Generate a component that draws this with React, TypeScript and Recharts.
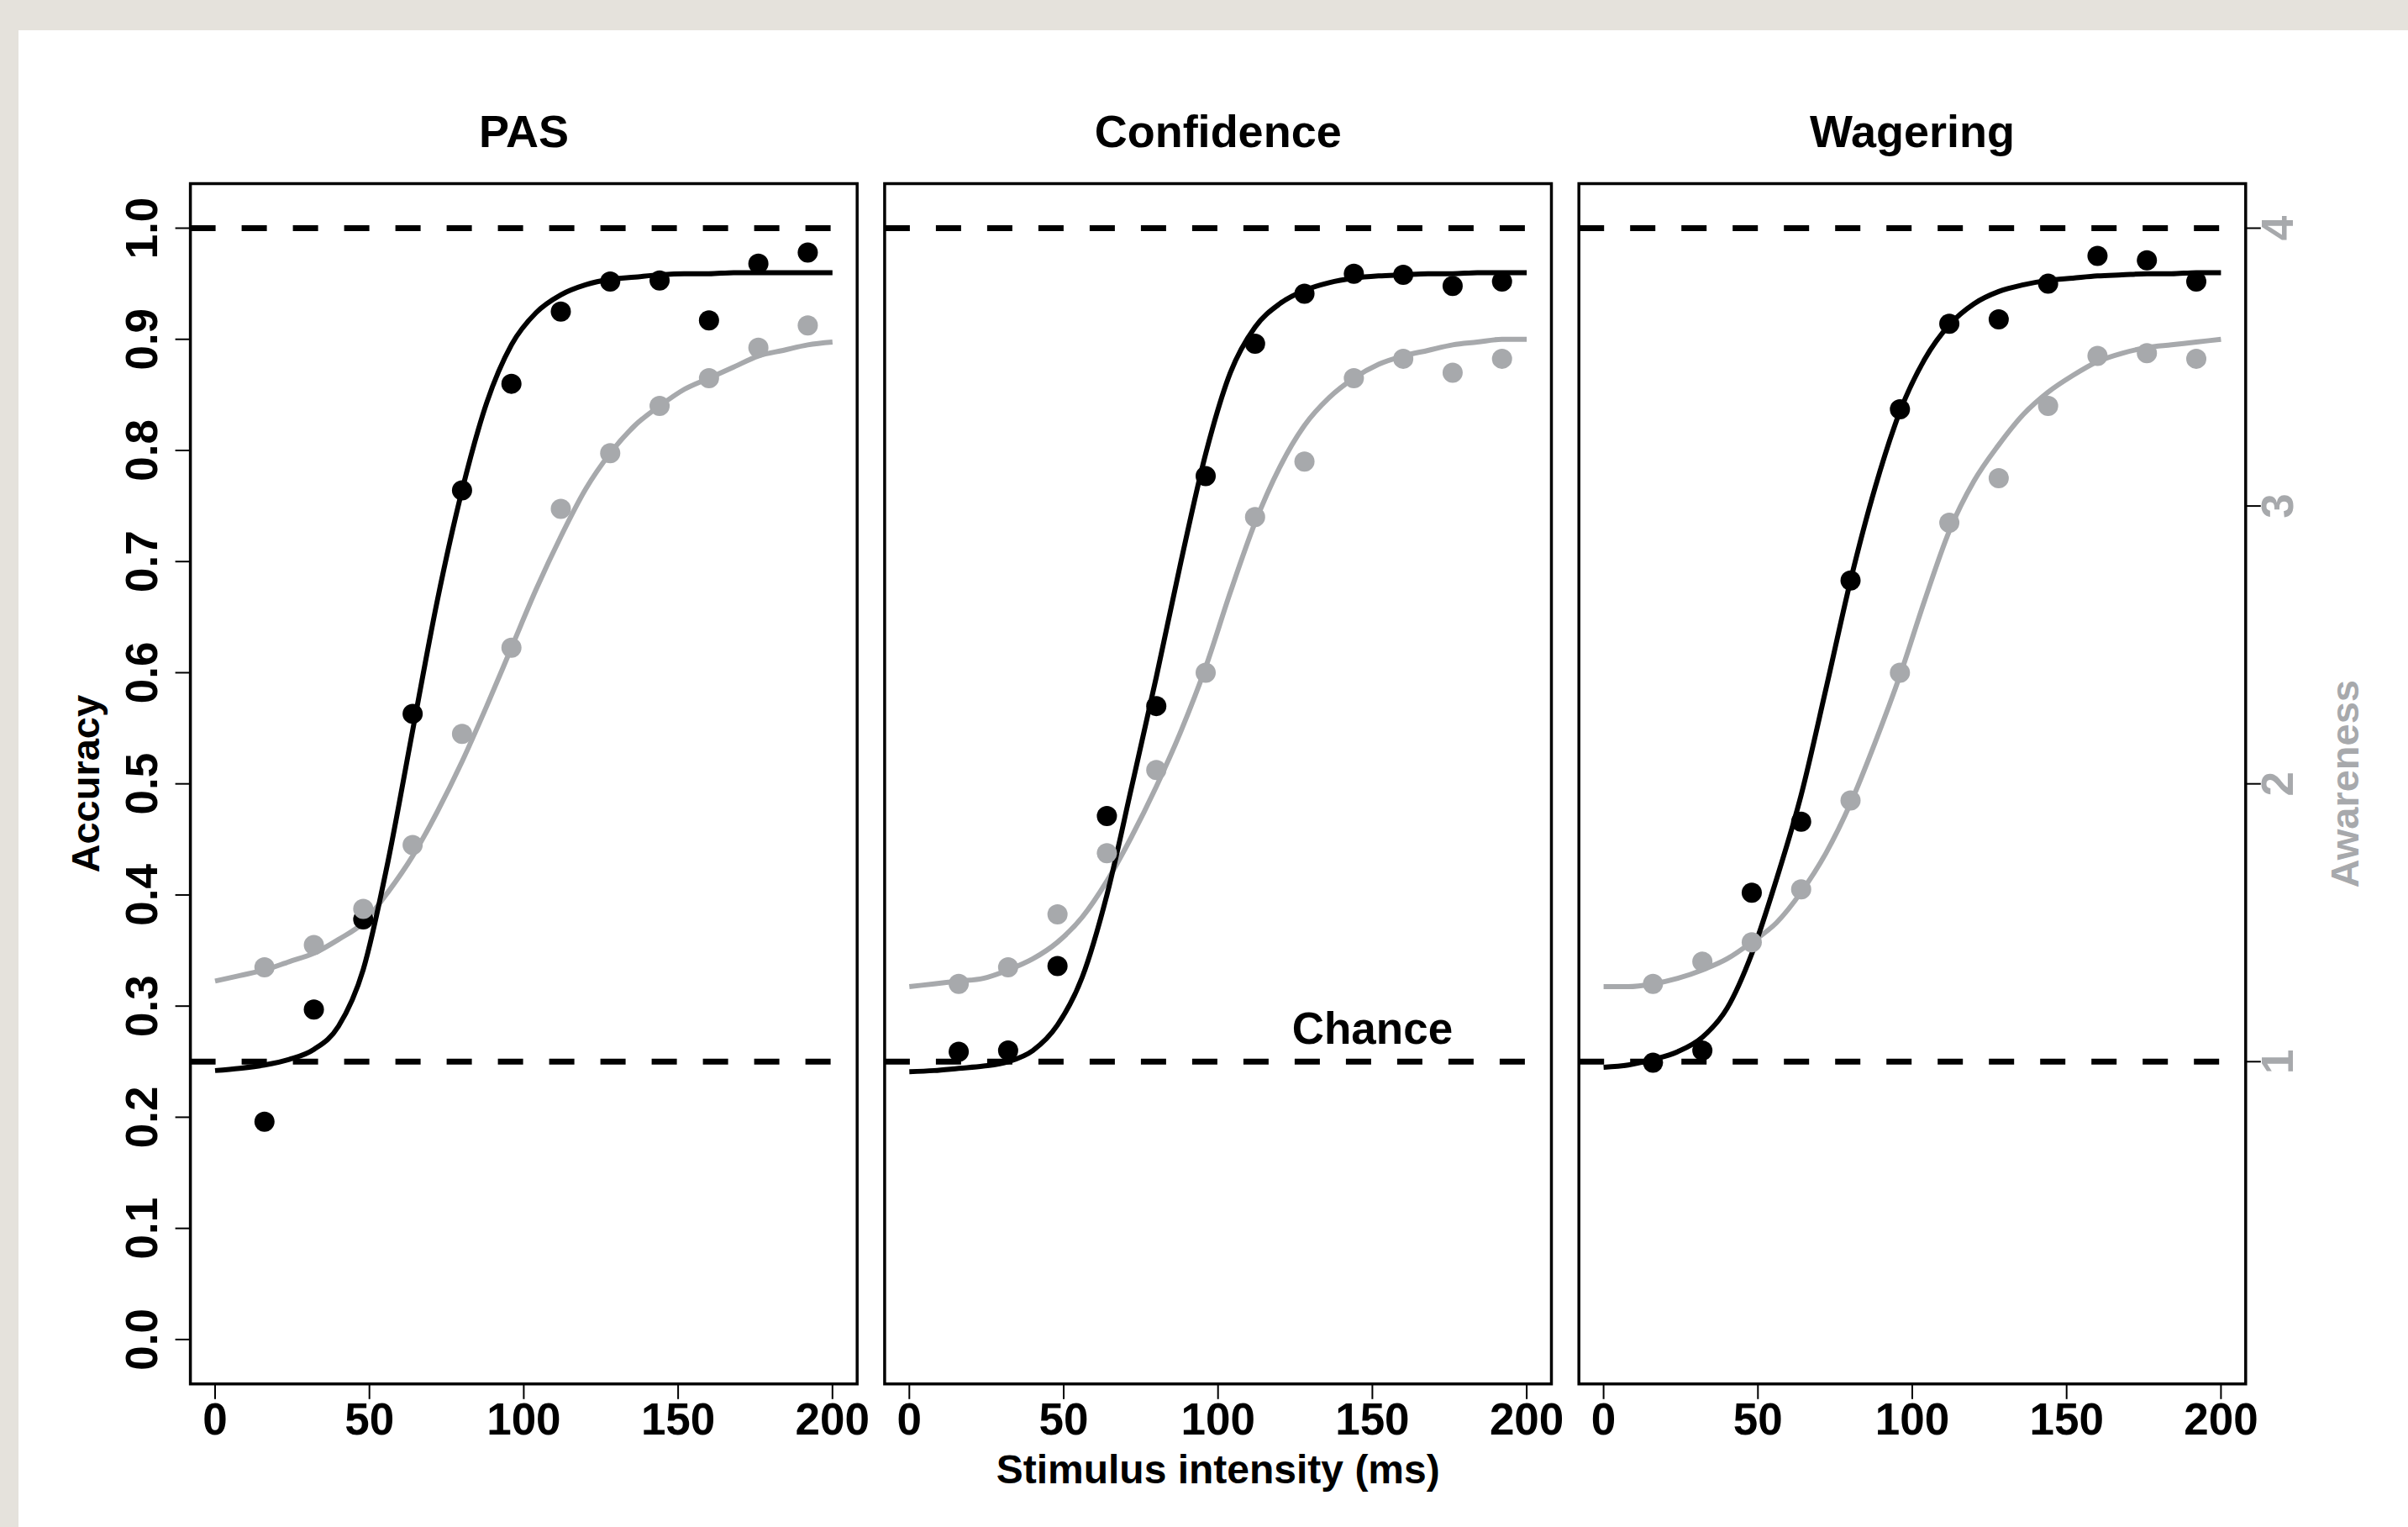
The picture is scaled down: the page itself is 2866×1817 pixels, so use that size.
import React from 'react';
import {
  ComposedChart,
  Line,
  Scatter,
  XAxis,
  YAxis,
  ReferenceLine,
  ReferenceArea,
  ReferenceDot,
} from 'recharts';

// stimulus levels (ms) where the observed points sit
const levels = [16, 32, 48, 64, 80, 96, 112, 128, 144, 160, 176, 192];
// x positions the fitted curves were read at
const fitX = [0, 8, 16, 24, 32, 40, 48, 56, 64, 72, 80, 88, 96, 104, 112, 120, 128, 136, 144, 152, 160, 168, 176, 184, 192, 200];

const xTicks = [0, 50, 100, 150, 200];
const accTicks = [0, 0.1, 0.2, 0.3, 0.4, 0.5, 0.6, 0.7, 0.8, 0.9, 1.0];
const awTicks = [1, 2, 3, 4];

// PAS
const pasAcc = [0.196, 0.297, 0.378, 0.563, 0.764, 0.86, 0.925, 0.952, 0.953, 0.917, 0.968, 0.978];
const pasAware = [1.34, 1.42, 1.55, 1.78, 2.18, 2.49, 2.99, 3.19, 3.36, 3.46, 3.57, 3.65];
const pasAccFit = [0.242, 0.244, 0.247, 0.252, 0.261, 0.282, 0.333, 0.43, 0.548, 0.665, 0.764, 0.843, 0.895, 0.924, 0.94, 0.949, 0.954, 0.956, 0.958, 0.959, 0.959, 0.96, 0.96, 0.96, 0.96, 0.96];
const pasAwareFit = [1.29, 1.31, 1.33, 1.36, 1.39, 1.44, 1.5, 1.61, 1.74, 1.9, 2.08, 2.28, 2.49, 2.7, 2.89, 3.06, 3.19, 3.29, 3.36, 3.42, 3.46, 3.5, 3.54, 3.56, 3.58, 3.59];

// Confidence
const confAcc = [0.259, 0.26, 0.336, 0.471, 0.57, 0.777, 0.896, 0.941, 0.959, 0.958, 0.948, 0.952];
const confAware = [1.28, 1.34, 1.53, 1.75, 2.05, 2.4, 2.96, 3.16, 3.46, 3.53, 3.48, 3.53];
const confAccFit = [0.241, 0.242, 0.244, 0.246, 0.25, 0.26, 0.283, 0.326, 0.4, 0.497, 0.596, 0.7, 0.797, 0.87, 0.911, 0.932, 0.944, 0.951, 0.955, 0.957, 0.958, 0.959, 0.959, 0.96, 0.96, 0.96];
const confAwareFit = [1.27, 1.28, 1.29, 1.3, 1.33, 1.37, 1.43, 1.52, 1.65, 1.81, 1.99, 2.19, 2.42, 2.69, 2.94, 3.14, 3.29, 3.39, 3.46, 3.51, 3.54, 3.56, 3.58, 3.59, 3.6, 3.6];

// Wagering
const wagAcc = [0.249, 0.26, 0.402, 0.466, 0.683, 0.837, 0.914, 0.918, 0.95, 0.975, 0.971, 0.952];
const wagAware = [1.28, 1.36, 1.43, 1.62, 1.94, 2.4, 2.94, 3.1, 3.36, 3.54, 3.55, 3.53];
const wagAccFit = [0.245, 0.247, 0.252, 0.259, 0.272, 0.298, 0.347, 0.414, 0.49, 0.585, 0.683, 0.767, 0.835, 0.882, 0.913, 0.932, 0.943, 0.949, 0.953, 0.955, 0.957, 0.958, 0.959, 0.959, 0.96, 0.96];
const wagAwareFit = [1.27, 1.27, 1.28, 1.3, 1.33, 1.37, 1.43, 1.5, 1.61, 1.75, 1.93, 2.15, 2.39, 2.66, 2.91, 3.09, 3.22, 3.33, 3.41, 3.47, 3.52, 3.55, 3.57, 3.58, 3.59, 3.6];

const FONT = '"Liberation Sans", Arial, Helvetica, sans-serif';
const GREY = '#a7a9ac';
const PAGE_W = 2866;
const PAGE_H = 1817;
const PLOT_TOP = 218.6;
const PLOT_BOTTOM = 1646.8;
const XAXIS_H = 120;

const toPts = (xs: number[], vs: number[]) => xs.map((x, i) => ({ x, v: vs[i] }));

const dot = (color: string) => (p: any) => <circle cx={p.cx} cy={p.cy} r={12} fill={color} />;

interface PanelProps {
  left: number;
  width: number;
  marginLeft: number;
  marginRight: number;
  showAcc?: boolean;
  showAware?: boolean;
  chance?: boolean;
  acc: number[];
  aware: number[];
  accFit: number[];
  awareFit: number[];
}

const Panel: React.FC<PanelProps> = ({ left, width, marginLeft, marginRight, showAcc, showAware, chance, acc, aware, accFit, awareFit }) => {
  const xTick = (p: any) => (
    <text x={p.x} y={1707} textAnchor="middle" fontSize={53} fontWeight="bold" fontFamily={FONT} fill="#000">
      {p.payload.value}
    </text>
  );
  const accTick = (p: any) => (
    <text x={187} y={p.y} transform={`rotate(-90, 187, ${p.y})`} textAnchor="middle" fontSize={53} fontWeight="bold" fontFamily={FONT} fill="#000">
      {Number(p.payload.value).toFixed(1)}
    </text>
  );
  const awX = 2729 - left;
  const awTick = (p: any) => (
    <text x={awX} y={p.y} transform={`rotate(-90, ${awX}, ${p.y})`} textAnchor="middle" fontSize={53} fontWeight="bold" fontFamily={FONT} fill={GREY}>
      {p.payload.value}
    </text>
  );

  return (
    <div style={{ position: 'absolute', left, top: 0 }}>
      <ComposedChart
        width={width}
        height={PAGE_H}
        margin={{ top: PLOT_TOP, bottom: PAGE_H - PLOT_BOTTOM - XAXIS_H, left: marginLeft, right: marginRight }}
      >
        <XAxis
          dataKey="x"
          type="number"
          domain={[-8, 208]}
          allowDataOverflow
          ticks={xTicks}
          height={XAXIS_H}
          axisLine={false}
          tickSize={18}
          tickLine={{ stroke: '#000', strokeWidth: 2 }}
          tick={xTick}
        />
        <YAxis
          yAxisId="acc"
          type="number"
          domain={[-0.04, 1.04]}
          allowDataOverflow
          ticks={accTicks}
          hide={!showAcc}
          width={150}
          axisLine={false}
          tickSize={18}
          tickLine={{ stroke: '#000', strokeWidth: 2 }}
          tick={accTick}
        />
        <YAxis
          yAxisId="aw"
          orientation="right"
          type="number"
          domain={[-0.16, 4.16]}
          allowDataOverflow
          ticks={awTicks}
          hide={!showAware}
          width={150}
          axisLine={false}
          tickSize={18}
          tickLine={{ stroke: '#000', strokeWidth: 2 }}
          tick={awTick}
        />
        <ReferenceArea
          yAxisId="acc"
          x1={-8}
          x2={208}
          y1={-0.04}
          y2={1.04}
          fill="none"
          fillOpacity={0}
          stroke="#000"
          strokeWidth={3.5}
          ifOverflow="visible"
        />
        <ReferenceLine yAxisId="acc" y={1} stroke="#000" strokeWidth={7} strokeDasharray="30 31" />
        <ReferenceLine yAxisId="acc" y={0.25} stroke="#000" strokeWidth={7} strokeDasharray="30 31" />
        {chance && (
          <ReferenceDot
            yAxisId="acc"
            x={150}
            y={0.28}
            r={0}
            stroke="none"
            fill="none"
            label={{ value: 'Chance', position: 'center', fontSize: 53, fontWeight: 'bold', fontFamily: FONT, fill: '#000' }}
          />
        )}
        <Scatter yAxisId="acc" data={toPts(levels, acc)} dataKey="v" fill="#000" shape={dot('#000')} isAnimationActive={false} />
        <Scatter yAxisId="aw" data={toPts(levels, aware)} dataKey="v" fill={GREY} shape={dot(GREY)} isAnimationActive={false} />
        <Line yAxisId="aw" data={toPts(fitX, awareFit)} dataKey="v" type="monotone" stroke={GREY} strokeWidth={6} dot={false} activeDot={false} isAnimationActive={false} />
        <Line yAxisId="acc" data={toPts(fitX, accFit)} dataKey="v" type="monotone" stroke="#000" strokeWidth={6} dot={false} activeDot={false} isAnimationActive={false} />
      </ComposedChart>
    </div>
  );
};

export default function App() {
  const txt = { fontFamily: FONT, fontWeight: 'bold' as const };
  return (
    <div style={{ position: 'absolute', left: 0, top: 0, width: PAGE_W, height: PAGE_H, background: '#e5e2dc', overflow: 'hidden' }}>
      <div style={{ position: 'absolute', left: 22, top: 36, right: 0, bottom: 0, background: '#fff' }} />
      <Panel left={0} width={1040} marginLeft={76.6} marginRight={19.8} showAcc acc={pasAcc} aware={pasAware} accFit={pasAccFit} awareFit={pasAwareFit} />
      <Panel left={1040} width={820} marginLeft={12.9} marginRight={13.5} chance acc={confAcc} aware={confAware} accFit={confAccFit} awareFit={confAwareFit} />
      <Panel left={1860} width={1006} marginLeft={19.2} marginRight={43.2} showAware acc={wagAcc} aware={wagAware} accFit={wagAccFit} awareFit={wagAwareFit} />
      <svg width={PAGE_W} height={PAGE_H} style={{ position: 'absolute', left: 0, top: 0, pointerEvents: 'none' }}>
        <text x={623.4} y={175} textAnchor="middle" fontSize={54} {...txt}>PAS</text>
        <text x={1449.7} y={175} textAnchor="middle" fontSize={54} {...txt}>Confidence</text>
        <text x={2276} y={175} textAnchor="middle" fontSize={54} {...txt}>Wagering</text>
        <text x={118} y={932.7} transform="rotate(-90, 118, 932.7)" textAnchor="middle" fontSize={47} {...txt}>Accuracy</text>
        <text x={2807} y={932.7} transform="rotate(-90, 2807, 932.7)" textAnchor="middle" fontSize={47} fill={GREY} {...txt}>Awareness</text>
        <text x={1449.7} y={1765} textAnchor="middle" fontSize={48} {...txt}>Stimulus intensity (ms)</text>
      </svg>
    </div>
  );
}
